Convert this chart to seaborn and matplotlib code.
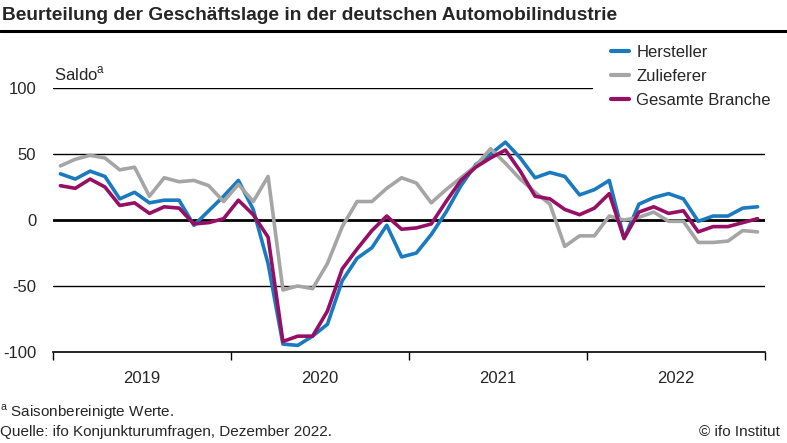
import matplotlib
matplotlib.use('Agg')

import matplotlib.pyplot as plt
import seaborn as sns
import pandas as pd
import numpy as np

# Monatswerte Jan 2019 - Dez 2022 (Saldo, saisonbereinigt)
YEARS = ['2019', '2020', '2021', '2022']
MONTHS = np.arange(48)

hersteller = [35, 31, 37, 33, 16, 21, 13, 15, 15, -4, 7, 18,
              30, 8, -33, -94, -95, -88, -79, -46, -29, -21, -4, -28,
              -25, -11, 6, 26, 42, 50, 59, 47, 32, 36, 33, 19,
              23, 30, -14, 12, 17, 20, 16, -1, 3, 3, 9, 10]
zulieferer = [41, 46, 49, 47, 38, 40, 18, 32, 29, 30, 26, 14,
              27, 14, 33, -53, -50, -52, -33, -5, 14, 14, 24, 32,
              28, 13, 23, 32, 41, 54, 43, 31, 21, 12, -20, -12,
              -12, 3, 0, 2, 6, -1, -1, -17, -17, -16, -8, -9]
gesamt = [26, 24, 31, 25, 11, 13, 5, 10, 9, -3, -2, 1,
          15, 4, -13, -92, -88, -88, -69, -37, -22, -8, 3, -7,
          -6, -3, 14, 30, 40, 47, 53, 37, 18, 16, 8, 4,
          9, 20, -14, 6, 10, 5, 7, -9, -5, -5, -2, 1]

SERIES = ['Hersteller', 'Zulieferer', 'Gesamte Branche']
COLORS = ['#1a7abf', '#a5a5a5', '#960f64']
Y_TICKS = [-100, -50, 0, 50, 100]

sns.set_theme(style="white")
plt.rcParams['font.family'] = ['Liberation Sans', 'DejaVu Sans']
plt.rcParams['axes.unicode_minus'] = False

df = pd.DataFrame({
    'monat': np.tile(MONTHS, 3),
    'saldo': hersteller + zulieferer + gesamt,
    'reihe': np.repeat(SERIES, 48),
})

fig = plt.figure(figsize=(7.87, 4.43), dpi=100)
ax = fig.add_axes([53 / 787, 91 / 443, 712 / 787, 264 / 443])

# Gitterlinien (100er-Linie endet vor der Legende)
ax.axhline(100, xmax=0.757, color='black', lw=1.0, zorder=1)
ax.axhline(50, color='black', lw=1.0, zorder=1)
ax.axhline(0, color='black', lw=2.0, zorder=1)
ax.axhline(-50, color='black', lw=1.0, zorder=1)

sns.lineplot(data=df, x='monat', y='saldo', hue='reihe', hue_order=SERIES,
             palette=COLORS, linewidth=2.6, ax=ax, zorder=3, legend=False)

ax.set_xlim(-0.5, 47.5)
ax.set_ylim(-100, 100)
ax.set_xlabel('')
ax.set_ylabel('')

for s in ['top', 'right', 'left']:
    ax.spines[s].set_visible(False)
ax.spines['bottom'].set_color('black')
ax.spines['bottom'].set_linewidth(1.2)

ax.set_yticks(Y_TICKS)
ax.set_yticklabels([str(v) for v in Y_TICKS], fontsize=12)
ax.tick_params(axis='y', length=0, pad=12)

ax.set_xticks([-0.5, 11.5, 23.5, 35.5, 47.5])
ax.set_xticklabels([])
ax.tick_params(axis='x', which='major', direction='out', length=6, width=1.0,
               color='black', bottom=True)
ax.set_xticks([5.5, 17.5, 29.5, 41.5], minor=True)
ax.set_xticklabels(YEARS, minor=True, fontsize=12)
ax.tick_params(axis='x', which='minor', length=0, pad=14)

# Legende
handles = [plt.Line2D([0], [0], color=c, lw=3) for c in COLORS]
fig.legend(handles, SERIES, loc='upper left', bbox_to_anchor=(604 / 787, 1 - 38 / 443),
           frameon=False, fontsize=12, handlelength=1.1, handletextpad=0.45,
           labelspacing=0.55, borderaxespad=0)

# Titel und Texte
fig.text(2 / 787, 1 - 16 / 443, 'Beurteilung der Geschäftslage in der deutschen Automobilindustrie',
         fontsize=13.8, fontweight='bold', va='center', ha='left')
fig.add_artist(plt.Line2D([0, 1], [1 - 31 / 443, 1 - 31 / 443], color='black', lw=2.2))
fig.text(54 / 787, 1 - 74 / 443, 'Saldo$^{\\mathregular{a}}$', fontsize=12, va='center', ha='left')
fig.text(0, 1 - 412 / 443, '$^{\\mathregular{a}}$ Saisonbereinigte Werte.', fontsize=11,
         va='center', ha='left')
fig.text(0, 1 - 432 / 443, 'Quelle: ifo Konjunkturumfragen, Dezember 2022.', fontsize=11,
         va='center', ha='left')
fig.text(780 / 787, 1 - 432 / 443, '© ifo Institut', fontsize=11, va='center', ha='right')

fig.savefig('out.png', dpi=100)
plt.close(fig)
